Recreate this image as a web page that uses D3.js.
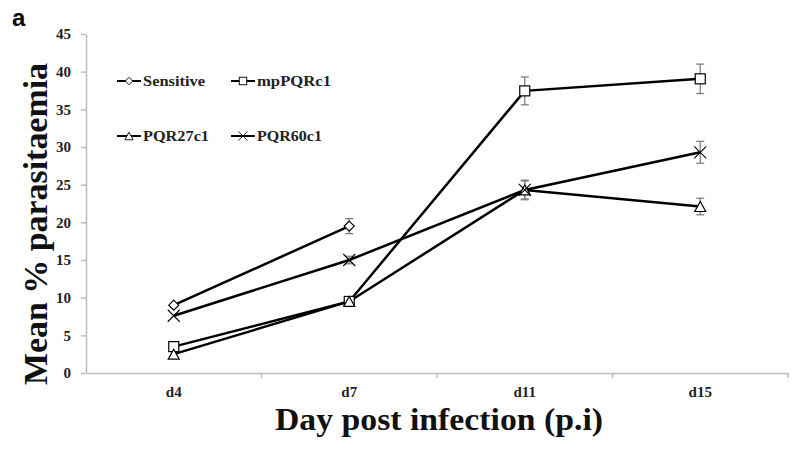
<!DOCTYPE html>
<html>
<head>
<meta charset="utf-8">
<script src="https://cdn.jsdelivr.net/npm/d3@7"></script>
<style>
  body { margin: 0; background: #fff; }
  svg { display: block; }
</style>
</head>
<body>
<script>
// 横軸のカテゴリ
const days = ["d4", "d7", "d11", "d15"];
const yTicks = [0, 5, 10, 15, 20, 25, 30, 35, 40, 45];

// 各系列の平均値 (null = データなし)
const sensitive = [9.0, 19.5, null, null];
const mpPQRc1 = [3.5, 9.5, 37.45, 39.05];
const pqr27c1 = [2.5, 9.5, 24.3, 22.1];
const pqr60c1 = [7.6, 15.0, 24.3, 29.3];

// 誤差 (±)
const sensitiveErr = [0.2, 1.0, null, null];
const mpPQRc1Err = [0.2, 0.3, 1.85, 1.95];
const pqr27c1Err = [0.2, 0.3, 1.2, 1.1];
const pqr60c1Err = [0.2, 0.5, 1.3, 1.45];

const width = 800;
const height = 449;
const marginTop = 34;
const marginRight = 12;
const marginBottom = 76;
const marginLeft = 86;

const series = [
    { name: "Sensitive", values: sensitive, err: sensitiveErr, symbol: "diamond" },
    { name: "mpPQRc1", values: mpPQRc1, err: mpPQRc1Err, symbol: "square" },
    { name: "PQR27c1", values: pqr27c1, err: pqr27c1Err, symbol: "triangle" },
    { name: "PQR60c1", values: pqr60c1, err: pqr60c1Err, symbol: "cross" }
];

const svg = d3.select("body")
    .append("svg")
    .attr("width", width)
    .attr("height", height);

const chartWidth = width - marginLeft - marginRight;
const chartHeight = height - marginTop - marginBottom;

const g = svg.append("g")
    .attr("transform", "translate(" + marginLeft + "," + marginTop + ")");

const xScale = d3.scaleBand()
    .domain(days)
    .range([0, chartWidth]);

const yScale = d3.scaleLinear()
    .domain([0, 45])
    .range([chartHeight, 0]);

const serif = "'Liberation Serif', 'DejaVu Serif', serif";
const axisColor = "#bdbdbd";

// x axis
const xAxis = g.append("g")
    .attr("transform", "translate(0," + chartHeight + ")")
    .call(d3.axisBottom(xScale).tickSize(0).tickPadding(13));
xAxis.select(".domain").attr("stroke", axisColor).attr("stroke-width", 1.5);
xAxis.selectAll("text")
    .attr("font-family", serif)
    .attr("font-weight", "bold")
    .attr("font-size", 15)
    .attr("fill", "#222");
// カテゴリ境界の目盛り
xAxis.selectAll(".bound")
    .data(days.map((d, i) => i + 1))
    .enter()
    .append("line")
    .attr("x1", (i) => i * xScale.step())
    .attr("x2", (i) => i * xScale.step())
    .attr("y1", 0)
    .attr("y2", 5)
    .attr("stroke", axisColor)
    .attr("stroke-width", 1.5);

// y axis
const yAxis = g.append("g")
    .call(d3.axisLeft(yScale).tickValues(yTicks).tickSize(5).tickPadding(10).tickSizeOuter(0));
yAxis.select(".domain").attr("stroke", axisColor).attr("stroke-width", 1.5);
yAxis.selectAll("line").attr("stroke", axisColor).attr("stroke-width", 1.5);
yAxis.selectAll("text")
    .attr("font-family", serif)
    .attr("font-weight", "bold")
    .attr("font-size", 15)
    .attr("fill", "#222");

const cx = (i) => xScale(days[i]) + xScale.bandwidth() / 2;

// 折れ線
const line = d3.line()
    .defined((d) => d != null)
    .x((d, i) => cx(i))
    .y((d) => yScale(d));

series.forEach((s) => {
    g.append("path")
        .datum(s.values)
        .attr("fill", "none")
        .attr("stroke", "#000")
        .attr("stroke-width", 2.5)
        .attr("d", line);
});

// 誤差棒
series.forEach((s) => {
    s.values.forEach((v, i) => {
        if (v == null || s.err[i] == null || s.err[i] < 0.4) return;
        const eg = g.append("g").attr("stroke", "#777").attr("stroke-width", 1.2);
        const x = cx(i);
        eg.append("line")
            .attr("x1", x).attr("x2", x)
            .attr("y1", yScale(v + s.err[i])).attr("y2", yScale(v - s.err[i]));
        [v + s.err[i], v - s.err[i]].forEach((e) => {
            eg.append("line")
                .attr("x1", x - 4).attr("x2", x + 4)
                .attr("y1", yScale(e)).attr("y2", yScale(e));
        });
    });
});

// マーカー
function drawMarker(sel, symbol, x, y) {
    if (symbol === "diamond") {
        sel.append("path")
            .attr("d", "M" + x + "," + (y - 5) + "L" + (x + 5) + "," + y + "L" + x + "," + (y + 5) + "L" + (x - 5) + "," + y + "Z")
            .attr("fill", "#fff").attr("stroke", "#000").attr("stroke-width", 1.2);
    } else if (symbol === "square") {
        sel.append("rect")
            .attr("x", x - 5).attr("y", y - 5).attr("width", 10).attr("height", 10)
            .attr("fill", "#fff").attr("stroke", "#000").attr("stroke-width", 1.2);
    } else if (symbol === "triangle") {
        sel.append("path")
            .attr("d", "M" + x + "," + (y - 5) + "L" + (x + 5.5) + "," + (y + 5) + "L" + (x - 5.5) + "," + (y + 5) + "Z")
            .attr("fill", "#fff").attr("stroke", "#000").attr("stroke-width", 1.2);
    } else {
        sel.append("path")
            .attr("d", "M" + (x - 6) + "," + (y - 6) + "L" + (x + 6) + "," + (y + 6) + "M" + (x + 6) + "," + (y - 6) + "L" + (x - 6) + "," + (y + 6))
            .attr("fill", "none").attr("stroke", "#000").attr("stroke-width", 1.1);
    }
}

series.forEach((s) => {
    s.values.forEach((v, i) => {
        if (v == null) return;
        drawMarker(g, s.symbol, cx(i), yScale(v));
    });
});

// 凡例
const legendPos = [[117, 81], [231, 81], [117, 136], [231, 136]];
const legendWidths = [62, 74, 66, 65];
series.forEach((s, i) => {
    const lg = svg.append("g");
    const [lx, ly] = legendPos[i];
    lg.append("line")
        .attr("x1", lx).attr("x2", lx + 24)
        .attr("y1", ly).attr("y2", ly)
        .attr("stroke", "#000").attr("stroke-width", 2);
    const mg = lg.append("g").attr("transform", "translate(" + (lx + 12) + "," + ly + ") scale(0.75)");
    drawMarker(mg, s.symbol, 0, 0);
    lg.append("text")
        .attr("x", lx + 26)
        .attr("y", ly + 5)
        .attr("font-family", serif)
        .attr("font-weight", "bold")
        .attr("font-size", 15)
        .attr("fill", "#222")
        .attr("textLength", legendWidths[i])
        .attr("lengthAdjust", "spacingAndGlyphs")
        .text(s.name);
});

// 軸タイトル
svg.append("text")
    .attr("transform", "translate(47," + 224 + ") rotate(-90)")
    .attr("text-anchor", "middle")
    .attr("font-family", serif)
    .attr("font-weight", "bold")
    .attr("font-size", 34)
    .attr("fill", "#111")
    .attr("textLength", 322)
    .attr("lengthAdjust", "spacingAndGlyphs")
    .text("Mean % parasitaemia");

svg.append("text")
    .attr("x", 439)
    .attr("y", 430)
    .attr("text-anchor", "middle")
    .attr("font-family", serif)
    .attr("font-weight", "bold")
    .attr("font-size", 31)
    .attr("fill", "#111")
    .attr("textLength", 328)
    .attr("lengthAdjust", "spacingAndGlyphs")
    .text("Day post infection (p.i)");

svg.append("text")
    .attr("x", 12)
    .attr("y", 26)
    .attr("font-family", "'Liberation Sans', Arial, sans-serif")
    .attr("font-weight", "bold")
    .attr("font-size", 24)
    .attr("fill", "#000")
    .text("a");
</script>
</body>
</html>
